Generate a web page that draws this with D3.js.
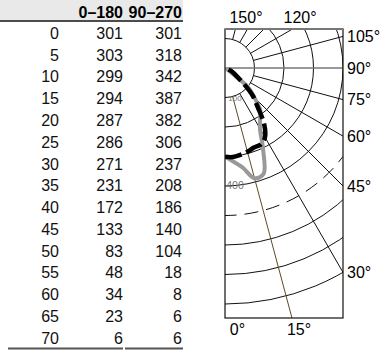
<!DOCTYPE html>
<html>
<head>
<meta charset="utf-8">
<script src="https://cdn.jsdelivr.net/npm/d3@7"></script>
<style>
  html, body { margin: 0; padding: 0; background: #fff; }
  svg { display: block; font-family: "Liberation Sans", Arial, Helvetica, sans-serif; }
</style>
</head>
<body>
<svg id="chart" width="380" height="350"></svg>
<script>
// ---- data ----
const angles = [0, 5, 10, 15, 20, 25, 30, 35, 40, 45, 50, 55, 60, 65, 70];
const seriesNames = ["0–180", "90–270"];
const c0_180 = [301, 303, 299, 294, 287, 286, 271, 231, 172, 133, 83, 48, 34, 23, 6];
const c90_270 = [301, 318, 342, 387, 382, 306, 237, 208, 186, 140, 104, 18, 8, 6, 6];
const rings = [100, 200, 300, 400, 500, 600, 700, 800];
const dashedRing = 500;
const ringLabels = [100, 400];
const rayAngles = [15, 30, 45, 60, 75, 105, 120, 135, 150, 165];
const rightLabels = [105, 90, 75, 60, 45, 30];
const topLabels = [150, 120];
const bottomLabels = [0, 15];

const svg = d3.select("#chart");

// ---- table ----
const fs = 16;
const colRight = [59, 123, 182];
const rowY = d3.scalePoint().domain(angles).range([33, 338]);
const tbl = svg.append("g");
tbl.append("rect").attr("x", 0).attr("y", 0).attr("width", 183).attr("height", 20).attr("fill", "#e9e9e9");
tbl.append("line").attr("x1", 0).attr("x2", 183).attr("y1", 21).attr("y2", 21).attr("stroke", "#111").attr("stroke-width", 1.5);
seriesNames.forEach((n, i) => {
  tbl.append("text").attr("x", colRight[i + 1]).attr("y", 18).attr("text-anchor", "end")
    .attr("font-size", fs).attr("font-weight", "bold").text(n);
});
angles.forEach((a, i) => {
  const y = rowY(a) + 5.8;
  [a, c0_180[i], c90_270[i]].forEach((v, j) => {
    tbl.append("text").attr("x", colRight[j]).attr("y", y).attr("text-anchor", "end")
      .attr("font-size", fs).attr("fill", "#111").text(v);
  });
});
tbl.append("line").attr("x1", 8).attr("x2", 123).attr("y1", 348.5).attr("y2", 348.5).attr("stroke", "#555").attr("stroke-width", 1.8);
tbl.append("line").attr("x1", 125).attr("x2", 183).attr("y1", 348.5).attr("y2", 348.5).attr("stroke", "#555").attr("stroke-width", 1.8);

// ---- polar ----
const cx = 225, cy = 68;
const box = { left: 225, top: 29, right: 343, bottom: 318 };
const r = d3.scaleLinear().domain([0, 100]).range([0, 29.5]);
const rad = d => d * Math.PI / 180;
const pt = (g, v) => [cx + r(v) * Math.sin(rad(g)), cy + r(v) * Math.cos(rad(g))];

svg.append("defs").append("clipPath").attr("id", "boxclip")
  .append("rect").attr("x", box.left).attr("y", box.top)
  .attr("width", box.right - box.left).attr("height", box.bottom - box.top);

const plot = svg.append("g").attr("clip-path", "url(#boxclip)");

// rings
plot.selectAll("circle.ring").data(rings).join("circle")
  .attr("class", "ring")
  .attr("cx", cx).attr("cy", cy).attr("r", d => r(d))
  .attr("fill", "none").attr("stroke", "#111").attr("stroke-width", 1)
  .attr("stroke-dasharray", d => d === dashedRing ? "14,8" : null);

// rays
plot.selectAll("line.ray").data(rayAngles).join("line")
  .attr("class", "ray")
  .attr("x1", d => pt(d, 100)[0]).attr("y1", d => pt(d, 100)[1])
  .attr("x2", d => pt(d, 1000)[0]).attr("y2", d => pt(d, 1000)[1])
  .attr("stroke", d => d === 15 ? "#5e4a26" : "#111").attr("stroke-width", 1);

// 90° axis
plot.append("line").attr("x1", cx).attr("y1", cy).attr("x2", pt(90, 1000)[0]).attr("y2", cy)
  .attr("stroke", "#777").attr("stroke-width", 1.6);

// curves
const line = d3.lineRadial()
  .angle(d => Math.PI - rad(d[0]))
  .radius(d => r(d[1]))
  .curve(d3.curveCatmullRom);
const curves = plot.append("g").attr("transform", `translate(${cx},${cy})`);
curves.append("path").datum(angles.map((a, i) => [a, c90_270[i]]))
  .attr("d", line).attr("fill", "none").attr("stroke", "#999").attr("stroke-width", 4);
curves.append("path").datum(angles.map((a, i) => [a, c0_180[i]]))
  .attr("d", line).attr("fill", "none").attr("stroke", "#000").attr("stroke-width", 4.5)
  .attr("stroke-dasharray", "17,5");

// ring labels
plot.selectAll("text.rl").data(ringLabels).join("text")
  .attr("class", "rl")
  .attr("x", cx + 10).attr("y", d => cy + r(d) + 3)
  .attr("text-anchor", "middle")
  .attr("font-size", d => d === 100 ? 8 : 10.5)
  .attr("fill", "#777").text(d => d);

// box
svg.append("rect").attr("x", box.left).attr("y", box.top)
  .attr("width", box.right - box.left).attr("height", box.bottom - box.top)
  .attr("fill", "none").attr("stroke", "#111").attr("stroke-width", 1.2);
svg.append("line").attr("x1", box.left).attr("x2", box.right).attr("y1", box.top).attr("y2", box.top)
  .attr("stroke", "#777").attr("stroke-width", 2);

// angle labels
const lfs = 16;
svg.selectAll("text.rlab").data(rightLabels).join("text")
  .attr("class", "rlab")
  .attr("x", box.right + 4)
  .attr("y", d => cy + (box.right - cx) / Math.tan(rad(d)) + 5.8)
  .attr("font-size", lfs).text(d => d + "°");
const topOff = { 150: -1.5, 120: 7.5 };
svg.selectAll("text.tlab").data(topLabels).join("text")
  .attr("class", "tlab")
  .attr("x", d => cx + (cy - box.top) * Math.tan(rad(180 - d)) + topOff[d])
  .attr("y", 23).attr("text-anchor", "middle")
  .attr("font-size", lfs).text(d => d + "°");
const botOff = { 0: 12.5, 15: 7 };
svg.selectAll("text.blab").data(bottomLabels).join("text")
  .attr("class", "blab")
  .attr("x", d => cx + (box.bottom - cy) * Math.tan(rad(d)) + botOff[d])
  .attr("y", 335).attr("text-anchor", "middle")
  .attr("font-size", lfs).text(d => d + "°");
</script>
</body>
</html>
